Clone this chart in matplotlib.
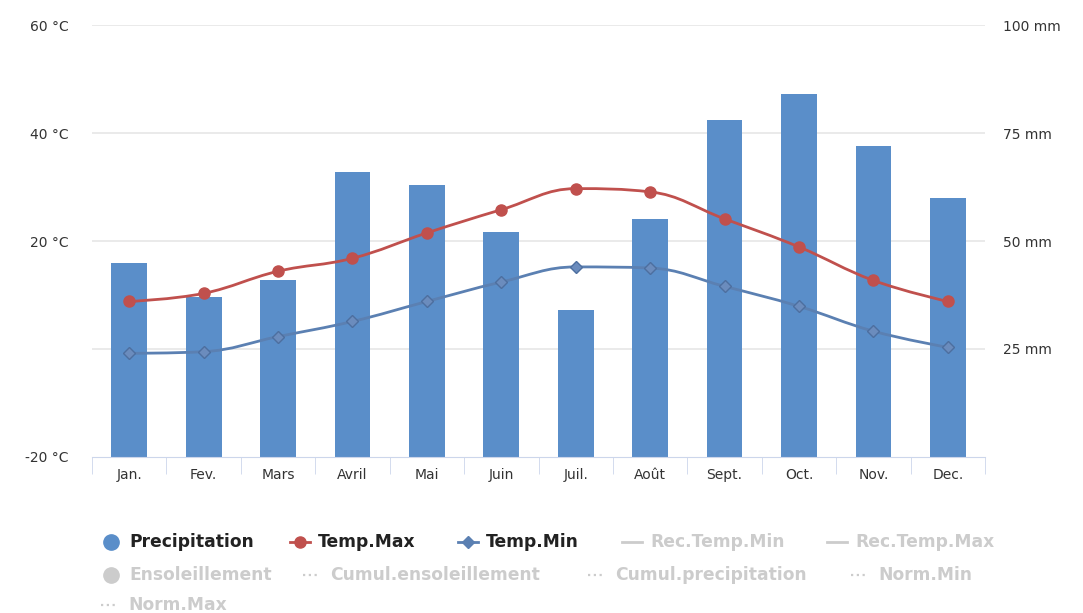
import matplotlib
matplotlib.use("Agg")
import matplotlib.pyplot as plt
import numpy as np
from matplotlib.path import Path
from matplotlib.patches import PathPatch
from matplotlib.lines import Line2D

# Données
mois = ["Jan.", "Fev.", "Mars", "Avril", "Mai", "Juin", "Juil.", "Août",
        "Sept.", "Oct.", "Nov.", "Dec."]
precipitation = [45, 37, 41, 66, 63, 52, 34, 55, 78, 84, 72, 60]
temp_max = [8.8, 10.3, 14.4, 16.8, 21.5, 25.8, 29.7, 29.1, 24.1, 18.9, 12.7, 8.8]
temp_min = [-0.8, -0.5, 2.3, 5.1, 8.8, 12.4, 15.2, 15.0, 11.6, 7.9, 3.3, 0.3]

temp_ticks = [-20, 0, 20, 40, 60]
temp_labels = ["-20 °C", "", "20 °C", "40 °C", "60 °C"]
mm_ticks = [0, 25, 50, 75, 100]
mm_labels = ["", "25 mm", "50 mm", "75 mm", "100 mm"]

legende_actifs = ["Precipitation", "Temp.Max", "Temp.Min"]
legende_inactifs = ["Rec.Temp.Min", "Rec.Temp.Max", "Ensoleillement",
                    "Cumul.ensoleillement", "Cumul.precipitation",
                    "Norm.Min", "Norm.Max"]

C_BAR = "#5a8ec9"
C_MAX = "#c0504d"
C_MIN = "#5b80b2"
C_GRIS = "#cccccc"


def controles(xs, ys, i, smoothing=1.5):
    """Points de contrôle gauche/droite du point i (algorithme spline Highcharts)."""
    denom = smoothing + 1
    x0, y0 = xs[i - 1], ys[i - 1]
    x1, y1 = xs[i], ys[i]
    x2, y2 = xs[i + 1], ys[i + 1]
    lx = (smoothing * x1 + x0) / denom
    ly = (smoothing * y1 + y0) / denom
    rx = (smoothing * x1 + x2) / denom
    ry = (smoothing * y1 + y2) / denom
    if rx != lx:
        corr = ((ry - ly) * (rx - x1)) / (rx - lx) + y1 - ry
        ly += corr
        ry += corr
    if ly > y0 and ly > y1:
        ly = max(y0, y1)
        ry = 2 * y1 - ly
    elif ly < y0 and ly < y1:
        ly = min(y0, y1)
        ry = 2 * y1 - ly
    if ry > y2 and ry > y1:
        ry = max(y2, y1)
        ly = 2 * y1 - ry
    elif ry < y2 and ry < y1:
        ry = min(y2, y1)
        ly = 2 * y1 - ry
    return (lx, ly), (rx, ry)


def spline_path(xs, ys):
    n = len(xs)
    ctrl = {i: controles(xs, ys, i) for i in range(1, n - 1)}
    verts = [(xs[0], ys[0])]
    codes = [Path.MOVETO]
    for i in range(1, n):
        c1 = ctrl[i - 1][1] if (i - 1) in ctrl else (xs[i - 1], ys[i - 1])
        c2 = ctrl[i][0] if i in ctrl else (xs[i], ys[i])
        verts += [c1, c2, (xs[i], ys[i])]
        codes += [Path.CURVE4] * 3
    return Path(verts, codes)


fig = plt.figure(figsize=(10.83, 6.13), dpi=100)
ax = fig.add_axes([0.085, 0.2545, 0.8245, 0.7047])
ax2 = ax.twinx()

x = np.arange(len(mois))

# Grille (derrière les barres) puis barres sur l'axe de droite (mm)
for t in mm_ticks[1:]:
    ax2.axhline(t, color="#e6e6e6", linewidth=1.2, zorder=0.5)
ax2.bar(x, precipitation, width=0.48, color=C_BAR, zorder=2)
ax2.set_ylim(0, 100)
ax2.set_yticks(mm_ticks)
ax2.set_yticklabels(mm_labels)

ax.set_ylim(-20, 60)
ax.set_xlim(-0.5, len(mois) - 0.5)
ax.set_yticks(temp_ticks)
ax.set_yticklabels(temp_labels)
ax.set_zorder(ax2.get_zorder() + 1)
ax.patch.set_visible(False)

# Courbes de température
ax.add_patch(PathPatch(spline_path(x, temp_max), fill=False, edgecolor=C_MAX,
                       linewidth=2, zorder=3))
ax.plot(x, temp_max, linestyle="none", marker="o", markersize=8,
        color=C_MAX, markeredgecolor=C_MAX, zorder=4)
ax.add_patch(PathPatch(spline_path(x, temp_min), fill=False, edgecolor=C_MIN,
                       linewidth=2, zorder=3))
ax.plot(x, temp_min, linestyle="none", marker="D", markersize=6.5,
        color="#6b8cbd", markeredgecolor="#4d6f9f", markeredgewidth=1, zorder=4)

for a in (ax, ax2):
    for s in a.spines.values():
        s.set_visible(False)
    a.tick_params(axis="y", length=0, labelsize=10, colors="#333333")

ax.spines["bottom"].set_visible(True)
ax.spines["bottom"].set_color("#ccd6eb")
ax.set_xticks(x)
ax.set_xticklabels(mois)
ax.set_xticks(np.arange(-0.5, len(mois)), minor=True)
ax.tick_params(axis="x", which="major", length=0, labelsize=10,
               colors="#333333", pad=8)
ax.tick_params(axis="x", which="minor", length=12, color="#ccd6eb")
ax.tick_params(axis="y", pad=17)
ax2.tick_params(axis="y", pad=13)

# Légende dessinée à la main
W, H = 1083, 613


def fx(px):
    return px / W


def fy(py):
    return 1 - py / H


def item(px, py, label, kind, color, bold=True):
    if kind == "circle":
        fig.add_artist(Line2D([fx(px)], [fy(py)], marker="o", markersize=11,
                              color=color, linestyle="none"))
    elif kind == "dot":
        fig.add_artist(Line2D([fx(px - 9), fx(px + 7)], [fy(py), fy(py)],
                              color=color, linewidth=1.6, linestyle=(0, (1, 1.6))))
    else:
        fig.add_artist(Line2D([fx(px - 10), fx(px + 10)], [fy(py), fy(py)],
                              color=color, linewidth=2))
        if kind in ("o", "D"):
            fig.add_artist(Line2D([fx(px)], [fy(py)], marker=kind,
                                  markersize=8 if kind == "o" else 6.5,
                                  color=color, linestyle="none"))
    fig.text(fx(px + 18), fy(py), label, ha="left", va="center", fontsize=12.3,
             fontweight="bold", color="#222222" if bold else C_GRIS)


item(111, 542, legende_actifs[0], "circle", C_BAR)
item(300, 542, legende_actifs[1], "o", C_MAX)
item(468, 542, legende_actifs[2], "D", C_MIN)
item(632, 542, legende_inactifs[0], "line", C_GRIS, bold=False)
item(837, 542, legende_inactifs[1], "line", C_GRIS, bold=False)
item(111, 575, legende_inactifs[2], "circle", C_GRIS, bold=False)
item(312, 575, legende_inactifs[3], "dot", C_GRIS, bold=False)
item(597, 575, legende_inactifs[4], "dot", C_GRIS, bold=False)
item(860, 575, legende_inactifs[5], "dot", C_GRIS, bold=False)
item(110, 605, legende_inactifs[6], "dot", C_GRIS, bold=False)

fig.savefig("out.png", dpi=100)
